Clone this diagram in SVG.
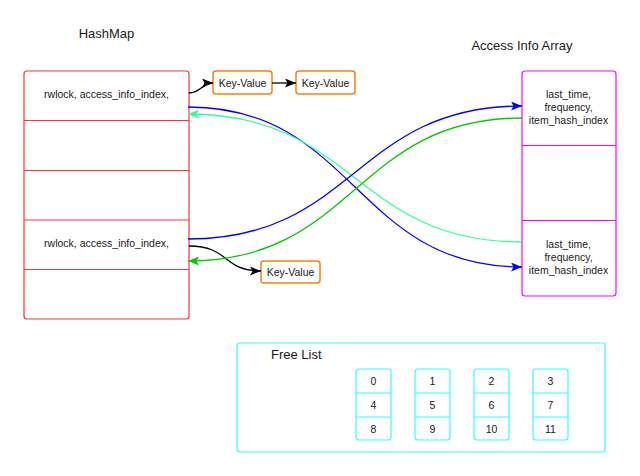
<svg xmlns="http://www.w3.org/2000/svg" width="640" height="476" viewBox="0 0 640 476">
<defs>
<style>
text{font-family:"Liberation Sans",Arial,sans-serif;fill:#1a1a1a}
.s{font-size:10.5px;text-anchor:middle}
.t{font-size:13px}
.red{fill:#fff;stroke:#FF3333;stroke-width:1.2}
.kv{fill:#fff;stroke:#FF8000;stroke-width:1.5}
.mag{fill:#fff;stroke:#FF00FF;stroke-width:1.2}
.cy{fill:#fff;stroke:#33FFFF;stroke-width:1.2}
.c{fill:none;stroke-width:1.3}
</style>
<marker id="aK" markerUnits="userSpaceOnUse" markerWidth="12" markerHeight="10" refX="11" refY="4.5" orient="auto"><path d="M0,0 L11,4.5 L0,9 L2.5,4.5 z" fill="#000"/></marker>
<marker id="aB" markerUnits="userSpaceOnUse" markerWidth="12" markerHeight="10" refX="11" refY="4.5" orient="auto"><path d="M0,0 L11,4.5 L0,9 L2.5,4.5 z" fill="#0000FF"/></marker>
<marker id="aL" markerUnits="userSpaceOnUse" markerWidth="12" markerHeight="10" refX="11" refY="4.5" orient="auto"><path d="M0,0 L11,4.5 L0,9 L2.5,4.5 z" fill="#33FF99"/></marker>
<marker id="aG" markerUnits="userSpaceOnUse" markerWidth="12" markerHeight="10" refX="11" refY="4.5" orient="auto"><path d="M0,0 L11,4.5 L0,9 L2.5,4.5 z" fill="#00CC00"/></marker>
</defs>
<rect width="640" height="476" fill="#fff"/>

<text id="title-hashmap" class="t" x="106.5" y="38" text-anchor="middle">HashMap</text>
<text id="title-access" class="t" x="522" y="50" text-anchor="middle">Access Info Array</text>

<g id="hashmap">
<rect class="red" x="24" y="71" width="165" height="248" rx="3"/>
<line x1="24" y1="120.5" x2="189" y2="120.5" stroke="#FF3333" stroke-width="1.2"/>
<line x1="24" y1="170.5" x2="189" y2="170.5" stroke="#FF3333" stroke-width="1.2"/>
<line x1="24" y1="220" x2="189" y2="220" stroke="#FF3333" stroke-width="1.2"/>
<line x1="24" y1="269.5" x2="189" y2="269.5" stroke="#FF3333" stroke-width="1.2"/>
<text class="s" x="106.5" y="97.5">rwlock, access_info_index,</text>
<text class="s" x="106.5" y="246.5">rwlock, access_info_index,</text>
</g>

<g id="kv1"><rect class="kv" x="213" y="71" width="59" height="23" rx="3"/><text class="s" x="242.5" y="86.5">Key-Value</text></g>
<g id="kv2"><rect class="kv" x="296" y="71" width="59" height="23" rx="3"/><text class="s" x="325.5" y="86.5">Key-Value</text></g>
<g id="kv3"><rect class="kv" x="261" y="261" width="59" height="22" rx="3"/><text class="s" x="290.5" y="276">Key-Value</text></g>

<g id="access-array">
<rect class="mag" x="522" y="71" width="94" height="225" rx="3"/>
<line x1="522" y1="145.5" x2="616" y2="145.5" stroke="#FF00FF" stroke-width="1.2"/>
<line x1="522" y1="220.5" x2="616" y2="220.5" stroke="#FF00FF" stroke-width="1.2"/>
<text class="s" x="568.5" y="97.5">last_time,</text>
<text class="s" x="568.5" y="110.5">frequency,</text>
<text class="s" x="568.5" y="123.5">item_hash_index</text>
<text class="s" x="568.5" y="247.5">last_time,</text>
<text class="s" x="568.5" y="260.5">frequency,</text>
<text class="s" x="568.5" y="273.5">item_hash_index</text>
</g>

<g id="free-list">
<rect class="cy" x="237" y="343" width="368" height="109" rx="3"/>
<text class="t" x="271" y="359">Free List</text>
<g id="fl-col0">
<rect class="cy" x="356" y="369" width="35" height="71" rx="3"/>
<line x1="356" y1="393" x2="391" y2="393" stroke="#33FFFF" stroke-width="1.2"/>
<line x1="356" y1="417" x2="391" y2="417" stroke="#33FFFF" stroke-width="1.2"/>
<text class="s" x="373.5" y="385">0</text><text class="s" x="373.5" y="409">4</text><text class="s" x="373.5" y="433">8</text>
</g>
<g id="fl-col1">
<rect class="cy" x="415" y="369" width="35" height="71" rx="3"/>
<line x1="415" y1="393" x2="450" y2="393" stroke="#33FFFF" stroke-width="1.2"/>
<line x1="415" y1="417" x2="450" y2="417" stroke="#33FFFF" stroke-width="1.2"/>
<text class="s" x="432.5" y="385">1</text><text class="s" x="432.5" y="409">5</text><text class="s" x="432.5" y="433">9</text>
</g>
<g id="fl-col2">
<rect class="cy" x="474" y="369" width="35" height="71" rx="3"/>
<line x1="474" y1="393" x2="509" y2="393" stroke="#33FFFF" stroke-width="1.2"/>
<line x1="474" y1="417" x2="509" y2="417" stroke="#33FFFF" stroke-width="1.2"/>
<text class="s" x="491.5" y="385">2</text><text class="s" x="491.5" y="409">6</text><text class="s" x="491.5" y="433">10</text>
</g>
<g id="fl-col3">
<rect class="cy" x="533" y="369" width="35" height="71" rx="3"/>
<line x1="533" y1="393" x2="568" y2="393" stroke="#33FFFF" stroke-width="1.2"/>
<line x1="533" y1="417" x2="568" y2="417" stroke="#33FFFF" stroke-width="1.2"/>
<text class="s" x="550.5" y="385">3</text><text class="s" x="550.5" y="409">7</text><text class="s" x="550.5" y="433">11</text>
</g>
</g>

<g id="connectors">
<path class="c" stroke="#000" d="M189,93 C201,93 202,83 213,83" marker-end="url(#aK)"/>
<path class="c" stroke="#000" d="M272,83 L296,83" marker-end="url(#aK)"/>
<path class="c" stroke="#000" d="M189,246 C230,246 222,271 261,271" marker-end="url(#aK)"/>
<path class="c" stroke="#0000FF" d="M188,107 C355,107 355,267 522,267" marker-end="url(#aB)"/>
<path class="c" stroke="#33FF99" d="M522,242 C355,242 355,114 188,114" marker-end="url(#aL)"/>
<path class="c" stroke="#0000FF" d="M188,239 C355,239 355,106 522,106" marker-end="url(#aB)"/>
<path class="c" stroke="#00CC00" d="M522,118 C355,118 355,261 188,261" marker-end="url(#aG)"/>
</g>
</svg>
